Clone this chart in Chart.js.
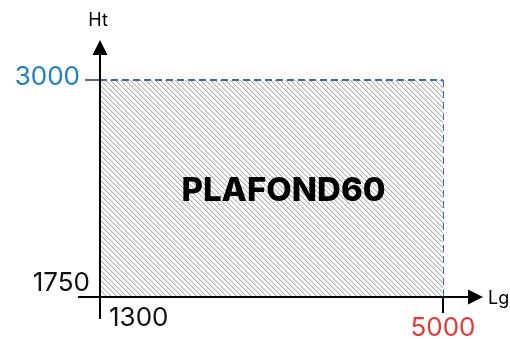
<!DOCTYPE html>
<html>
<head>
<meta charset="utf-8">
<script src="https://cdn.jsdelivr.net/npm/chart.js@4/dist/chart.umd.min.js"></script>
<style>
  body { margin: 0; background: #fff; }
  #wrap { width: 510px; height: 339px; }
</style>
</head>
<body>
<div id="wrap"><canvas id="myChart" width="510" height="339"></canvas></div>
<script>
// zone du plafond
const xBounds = [1300, 5000];
const yBounds = [1750, 3000];
const xTickColors = ['#111111', '#e53935'];
const yTickColors = ['#111111', '#1f7fc4'];
const zoneLabel = 'PLAFOND60';
const axisNames = ['Lg', 'Ht'];

const FONT = 'Inter, "Noto Sans", sans-serif';

const makeHatch = () => {
  const n = 5;
  const c = document.createElement('canvas');
  c.width = n; c.height = n;
  const g = c.getContext('2d');
  g.fillStyle = '#ffffff';
  g.fillRect(0, 0, n, n);
  for (let i = 0; i < n; i++) {
    g.fillStyle = '#acacac';
    g.fillRect(i, i, 1, 1);
    g.fillStyle = '#e6e6e6';
    g.fillRect((i + 1) % n, i, 1, 1);
  }
  return g.createPattern(c, 'repeat');
};

// axes with arrows, ticks and labels
const axesPlugin = {
  id: 'axes',
  afterDatasetsDraw(chart) {
    const { ctx, scales: { x, y } } = chart;
    const x0 = x.getPixelForValue(xBounds[0]);
    const x1 = x.getPixelForValue(xBounds[1]);
    const y0 = y.getPixelForValue(yBounds[0]);
    const y1 = y.getPixelForValue(yBounds[1]);
    ctx.save();

    // label in the middle
    ctx.fillStyle = '#000';
    ctx.font = `800 33px ${FONT}`;
    ctx.textAlign = 'center';
    ctx.textBaseline = 'middle';
    ctx.fillText(zoneLabel, (x0 + x1) / 2 + 12, (y0 + y1) / 2 + 3);

    // tick at top value
    ctx.strokeStyle = '#666';
    ctx.lineWidth = 2;
    ctx.beginPath();
    ctx.moveTo(x0 - 15, y1); ctx.lineTo(x0, y1);
    ctx.stroke();

    // axes lines
    ctx.strokeStyle = '#000';
    ctx.lineWidth = 2;
    ctx.beginPath();
    ctx.moveTo(x0, y0 + 22); ctx.lineTo(x0, 50);
    ctx.moveTo(x0 - 22, y0); ctx.lineTo(472, y0);
    ctx.moveTo(x1, y0); ctx.lineTo(x1, y0 + 16);
    ctx.stroke();

    // arrows
    ctx.fillStyle = '#000';
    ctx.beginPath();
    ctx.moveTo(x0, 40); ctx.lineTo(x0 + 7.5, 55); ctx.lineTo(x0 - 7.5, 55);
    ctx.closePath(); ctx.fill();
    ctx.beginPath();
    ctx.moveTo(483, y0); ctx.lineTo(468, y0 - 7.5); ctx.lineTo(468, y0 + 7.5);
    ctx.closePath(); ctx.fill();

    // axis names
    ctx.font = `18px ${FONT}`;
    ctx.textAlign = 'center';
    ctx.textBaseline = 'middle';
    ctx.fillText(axisNames[1], x0 - 2, 21);
    ctx.textAlign = 'left';
    ctx.fillText(axisNames[0], 488, y0 + 2);

    // tick labels
    ctx.font = `26px ${FONT}`;
    ctx.textBaseline = 'middle';
    ctx.textAlign = 'right';
    ctx.fillStyle = yTickColors[1];
    ctx.fillText(String(yBounds[1]), x0 - 20, y1 - 3);
    ctx.fillStyle = yTickColors[0];
    ctx.fillText(String(yBounds[0]), x0 - 10, y0 - 14);
    ctx.textAlign = 'left';
    ctx.fillStyle = xTickColors[0];
    ctx.fillText(String(xBounds[0]), x0 + 9, y0 + 21);
    ctx.textAlign = 'center';
    ctx.fillStyle = xTickColors[1];
    ctx.fillText(String(xBounds[1]), x1, y0 + 31);
    ctx.restore();
  }
};

const ctx = document.querySelector('#myChart').getContext('2d');
const chart = new Chart(ctx, {
  type: 'line',
  data: {
    datasets: [
      {
        // top edge, filled down to the bottom of the zone
        data: [{ x: xBounds[0], y: yBounds[1] }, { x: xBounds[1], y: yBounds[1] }],
        borderColor: '#3f6aa3',
        borderWidth: 2,
        borderDash: [7, 4],
        backgroundColor: makeHatch(),
        fill: 'start',
        clip: false,
        pointRadius: 0
      },
      {
        // right edge
        data: [{ x: xBounds[1], y: yBounds[1] }, { x: xBounds[1], y: yBounds[0] }],
        borderColor: '#3f6aa3',
        borderWidth: 2,
        borderDash: [7, 4],
        fill: false,
        clip: false,
        pointRadius: 0
      }
    ]
  },
  options: {
    responsive: false,
    animation: false,
    layout: { padding: { left: 100, right: 67, top: 80, bottom: 42 } },
    plugins: { legend: { display: false }, tooltip: { enabled: false } },
    scales: {
      x: { type: 'linear', min: xBounds[0], max: xBounds[1], display: false },
      y: { type: 'linear', min: yBounds[0], max: yBounds[1], display: false }
    }
  },
  plugins: [axesPlugin]
});
</script>
</body>
</html>
